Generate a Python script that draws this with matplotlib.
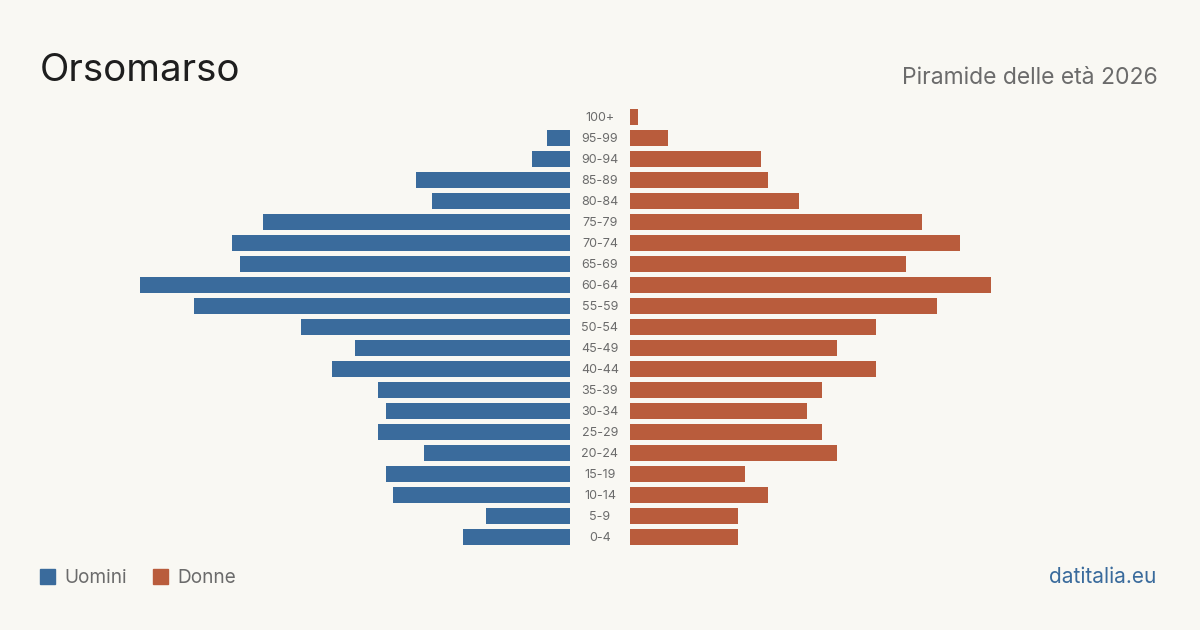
import matplotlib.pyplot as plt

plt.rcParams['font.family'] = ['Inter', 'DejaVu Sans']

ages = ['0-4', '5-9', '10-14', '15-19', '20-24', '25-29', '30-34', '35-39',
        '40-44', '45-49', '50-54', '55-59', '60-64', '65-69', '70-74',
        '75-79', '80-84', '85-89', '90-94', '95-99', '100+']
uomini = [14, 11, 23, 24, 19, 25, 24, 25, 31, 28, 35, 49, 56, 43, 44,
          40, 18, 20, 5, 3, 0]
donne = [14, 14, 18, 15, 27, 25, 23, 25, 32, 27, 32, 40, 47, 36, 43,
         38, 22, 18, 17, 5, 1]

BG = '#f9f8f3'
BLUE = '#3a6b9c'
ORANGE = '#b95c3c'
GREY = '#6b6b6b'

W, H = 1200, 630
fig = plt.figure(figsize=(12, 6.3), dpi=100, facecolor=BG)

xmax = 56
span = 430  # px for xmax
top, bottom = 106.5, 547.5
ax_b = 1 - bottom / H
ax_h = (bottom - top) / H

axl = fig.add_axes([(570 - span) / W, ax_b, span / W, ax_h])
axr = fig.add_axes([630 / W, ax_b, span / W, ax_h])

y = range(len(ages))
axl.barh(y, uomini, height=0.8, color=BLUE)
axr.barh(y, donne, height=0.8, color=ORANGE)
axl.set_xlim(xmax, 0)
axr.set_xlim(0, xmax)
for ax in (axl, axr):
    ax.set_ylim(-0.5, len(ages) - 0.5)
    ax.axis('off')
    ax.set_facecolor('none')

# age labels in the middle gap
for i, a in enumerate(ages):
    yc = 1 - (top + 0.7 + (len(ages) - 0.5 - i) * (bottom - top) / len(ages)) / H
    fig.text(600 / W, yc, a, ha='center', va='center', fontsize=9, color=GREY)

fig.text(40 / W, 1 - 81 / H, 'Orsomarso', fontsize=27.7, color='#1e1e1e',
         ha='left', va='baseline')
fig.text(1158 / W, 1 - 84 / H, 'Piramide delle età 2026', fontsize=16.5,
         color=GREY, ha='right', va='baseline')

# legend
fig.patches.append(plt.Rectangle((40 / W, 1 - 584 / H), 15 / W, 15 / H,
                                 transform=fig.transFigure, color=BLUE))
fig.text(64 / W, 1 - 583 / H, 'Uomini', fontsize=13.7, color=GREY,
         ha='left', va='baseline')
fig.patches.append(plt.Rectangle((153 / W, 1 - 584 / H), 15 / W, 15 / H,
                                 transform=fig.transFigure, color=ORANGE))
fig.text(177 / W, 1 - 583 / H, 'Donne', fontsize=13.7, color=GREY,
         ha='left', va='baseline')

fig.text(1156 / W, 1 - 583 / H, 'datitalia.eu', fontsize=15, color=BLUE,
         ha='right', va='baseline')

fig.savefig('out.png', dpi=100, facecolor=BG)
